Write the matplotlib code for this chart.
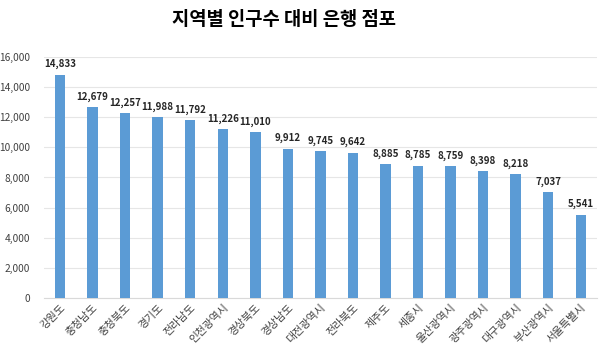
import matplotlib
matplotlib.use("Agg")
import matplotlib.pyplot as plt

plt.rcParams['font.family'] = ['Noto Sans CJK KR', 'DejaVu Sans']

regions = ["강원도", "충청남도", "충청북도", "경기도", "전라남도", "인천광역시", "경상북도",
           "경상남도", "대전광역시", "전라북도", "제주도", "세종시", "울산광역시", "광주광역시",
           "대구광역시", "부산광역시", "서울특별시"]
values = [14833, 12679, 12257, 11988, 11792, 11226, 11010, 9912, 9745, 9642,
          8885, 8785, 8759, 8398, 8218, 7037, 5541]
yticks = [0, 2000, 4000, 6000, 8000, 10000, 12000, 14000, 16000]

fig = plt.figure(figsize=(6, 3.55), dpi=100)
ax = fig.add_axes([0.073, 0.1606, 0.922, 0.6789])

x = range(len(regions))
ax.bar(x, values, width=0.32, color='#5B9BD5', zorder=3)
for xi, v in zip(x, values):
    ax.text(xi, v + 350, f"{v:,}", ha='center', va='bottom', fontsize=7,
            fontweight='bold', color='#262626')

ax.set_xlim(-0.5, len(regions) - 0.5)
ax.set_ylim(0, 16000)
ax.set_yticks(yticks)
ax.set_yticklabels([f"{t:,}" for t in yticks], fontsize=7.3, color='#404040')
ax.set_xticks(list(x))
ax.set_xticklabels(regions, rotation=45, ha='right', rotation_mode='anchor',
                   fontsize=7.8, color='#404040')
ax.tick_params(axis='both', length=0, pad=3)
ax.tick_params(axis='y', pad=10)
ax.grid(axis='y', color='#E6E6E6', linewidth=0.8, zorder=0)
for s in ['top', 'right', 'left']:
    ax.spines[s].set_visible(False)
ax.spines['bottom'].set_color('#D9D9D9')

fig.text(0.474, 0.945, "지역별 인구수 대비 은행 점포", ha='center', va='center',
         fontsize=13.5, fontweight='bold', color='#000000')

fig.savefig("out.png", dpi=100)
